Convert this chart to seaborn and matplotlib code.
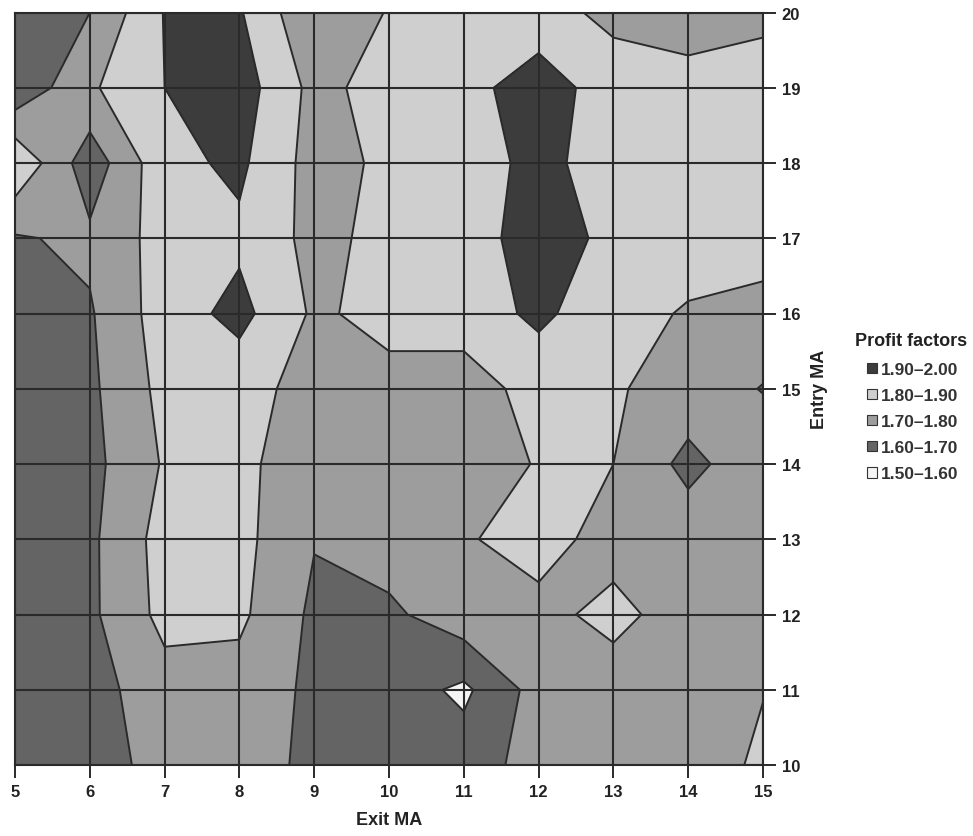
import numpy as np
import pandas as pd
import matplotlib
matplotlib.use("Agg")
import matplotlib.pyplot as plt
from matplotlib.patches import Patch
import seaborn as sns

# Axes values
exit_ma = [5, 6, 7, 8, 9, 10, 11, 12, 13, 14, 15]
entry_ma = [10, 11, 12, 13, 14, 15, 16, 17, 18, 19, 20]

# Profit factor per entry MA (row), across exit MA 5..15
pf_entry_10 = [1.64, 1.61, 1.77, 1.76, 1.67, 1.66, 1.65, 1.74, 1.75, 1.77, 1.81]
pf_entry_11 = [1.64, 1.66, 1.76, 1.76, 1.68, 1.65, 1.58, 1.74, 1.75, 1.76, 1.798]
pf_entry_12 = [1.64, 1.68, 1.83, 1.82, 1.68, 1.68, 1.76, 1.77, 1.83, 1.75, 1.75]
pf_entry_13 = [1.64, 1.68, 1.84, 1.83, 1.705, 1.75, 1.79, 1.84, 1.76, 1.76, 1.76]
pf_entry_14 = [1.64, 1.67, 1.81, 1.82, 1.75, 1.74, 1.76, 1.805, 1.80, 1.67, 1.77]
pf_entry_15 = [1.64, 1.68, 1.83, 1.84, 1.76, 1.77, 1.75, 1.84, 1.81, 1.76, 1.695]
pf_entry_16 = [1.64, 1.69, 1.85, 1.93, 1.785, 1.83, 1.85, 1.92, 1.84, 1.79, 1.77]
pf_entry_17 = [1.69, 1.72, 1.84, 1.88, 1.77, 1.83, 1.84, 1.96, 1.87, 1.85, 1.84]
pf_entry_18 = [1.89, 1.64, 1.87, 1.92, 1.76, 1.82, 1.85, 1.93, 1.85, 1.85, 1.85]
pf_entry_19 = [1.62, 1.785, 1.90, 1.95, 1.77, 1.84, 1.86, 1.96, 1.84, 1.83, 1.84]
pf_entry_20 = [1.62, 1.70, 1.905, 1.91, 1.71, 1.807, 1.84, 1.83, 1.78, 1.76, 1.78]

band_edges = [1.5, 1.6, 1.7, 1.8, 1.9, 2.0]
band_labels = ["1.50\u20131.60", "1.60\u20131.70", "1.70\u20131.80",
               "1.80\u20131.90", "1.90\u20132.00"]

rows = [pf_entry_10, pf_entry_11, pf_entry_12, pf_entry_13, pf_entry_14,
        pf_entry_15, pf_entry_16, pf_entry_17, pf_entry_18, pf_entry_19,
        pf_entry_20]

long = pd.DataFrame(
    [(e, x, v) for e, row in zip(entry_ma, rows) for x, v in zip(exit_ma, row)],
    columns=["entry", "exit", "pf"],
)
grid = long.pivot(index="entry", columns="exit", values="pf")

sns.set_theme(style="white")
plt.rcParams["font.family"] = ["Liberation Sans", "DejaVu Sans"]
plt.rcParams["font.weight"] = "bold"

band_colors = ["#f4f4f4", "#646464", "#9d9d9d", "#cfcfcf", "#3c3c3c"]
edge = "#2a2a2a"

fig = plt.figure(figsize=(9.73, 8.37), dpi=100)
fig.patch.set_facecolor("white")
ax = fig.add_axes([15 / 973, 1 - 766 / 837, 748 / 973, 752.5 / 837])

X, Y = np.meshgrid(grid.columns.values, grid.index.values)
Z = grid.values
ax.contourf(X, Y, Z, levels=band_edges, colors=band_colors)
ax.contour(X, Y, Z, levels=band_edges, colors=edge, linewidths=1.4)

ax.set_xlim(5, 15)
ax.set_ylim(10, 20)
ax.set_xticks(exit_ma)
ax.set_yticks(entry_ma)
ax.set_axisbelow(False)
ax.grid(True, color=edge, linewidth=1.5)
for s in ax.spines.values():
    s.set_color(edge)
    s.set_linewidth(1.5)

ax.yaxis.tick_right()
ax.yaxis.set_label_position("right")
ax.tick_params(axis="both", which="major", direction="out", length=9.5,
               width=1.4, color=edge, labelsize=12, pad=4,
               bottom=True, right=True, left=False, top=False)
for lab in ax.get_xticklabels() + ax.get_yticklabels():
    lab.set_fontweight("bold")
    lab.set_color("#222222")

ax.set_xlabel("Exit MA", fontsize=13, fontweight="bold", labelpad=9,
              color="#222222")
ax.set_ylabel("Entry MA", fontsize=13, fontweight="bold", labelpad=8,
              color="#222222")

# Legend: heading flush left, swatches indented below it
fig.text(855 / 973, 1 - 342 / 837, "Profit factors", fontsize=13,
         fontweight="bold", color="#222222", ha="left", va="center")
handles = [Patch(facecolor=c, edgecolor="#333333", linewidth=0.8, label=l)
           for c, l in zip(band_colors[::-1], band_labels[::-1])]
leg = fig.legend(handles=handles, loc="upper left",
                 bbox_to_anchor=(867 / 973, 1 - 363 / 837), frameon=False,
                 fontsize=12.5, handlelength=0.55, handleheight=0.55,
                 handletextpad=0.25, labelspacing=0.64,
                 borderaxespad=0, borderpad=0)
for t in leg.get_texts():
    t.set_color("#333333")

fig.savefig("out.png", dpi=100)
